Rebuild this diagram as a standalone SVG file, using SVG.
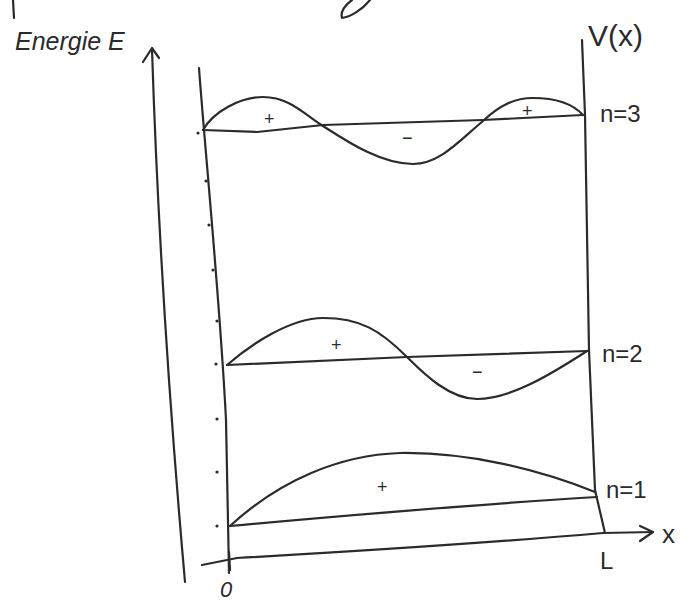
<svg xmlns="http://www.w3.org/2000/svg" width="692" height="604" viewBox="0 0 692 604">
<style>
.s{fill:none;stroke:#2b2b2b;stroke-width:2.2;stroke-linecap:round;stroke-linejoin:round}
.t{font-family:"Liberation Sans","DejaVu Sans",sans-serif;fill:#2b2b2b}
.d{fill:#2b2b2b}
</style>
<rect width="692" height="604" fill="#ffffff"/>
<g id="stray">
<path class="s" d="M13,0 L14,18"/>
<path class="s" d="M370,0 C362,10 350,17 342,18 C340,12 345,5 352,0"/>
</g>
<g id="energy-axis">
<path class="s" d="M152,49 Q160,300 185,582"/>
<polyline class="s" points="143,62 152,48 159,58"/>
<text class="t" x="15" y="50" font-size="25" font-style="italic">Energie E</text>
</g>
<g id="well">
<path class="s" d="M199,68 C205,150 220,300 226,420 L229,573"/>
<path class="s" d="M582,40 L585,115 L589,350 L595,490 L605,533"/>
<text class="t" x="588" y="46" font-size="30">V(x)</text>
</g>
<g id="ticks">
<circle class="d" cx="198" cy="133" r="1.6"/>
<circle class="d" cx="206" cy="181" r="1.6"/>
<circle class="d" cx="209" cy="225" r="1.6"/>
<circle class="d" cx="213" cy="270" r="1.6"/>
<circle class="d" cx="217" cy="321" r="1.6"/>
<circle class="d" cx="216" cy="364" r="1.6"/>
<circle class="d" cx="217" cy="419" r="1.6"/>
<circle class="d" cx="217" cy="472" r="1.6"/>
<circle class="d" cx="217" cy="526" r="1.6"/>
</g>
<g id="x-axis">
<path class="s" d="M202,565 L237,558 Q450,546 603,533 L653,532"/>
<polyline class="s" points="640,526 653,532 640,541"/>
<path class="s" d="M229,552 L230,570"/>
<text class="t" x="220" y="597" font-size="22" font-style="italic">0</text>
<text class="t" x="600" y="569" font-size="24">L</text>
<text class="t" x="662" y="543" font-size="26">x</text>
</g>
<g id="level-n1">
<path class="s" d="M230,526 Q450,506 597,497"/>
<path class="s" d="M230,526 C280,480 340,455 400,453 C470,452 540,470 595,492"/>
<text class="t" x="377" y="493" font-size="18">+</text>
<text class="t" x="606" y="498" font-size="24">n=1</text>
</g>
<g id="level-n2">
<path class="s" d="M227,365 L407,357 L587,351"/>
<path class="s" d="M227,365 C250,345 290,318 323,318 C360,318 380,330 407,357 C425,375 450,399 477,399 C510,399 550,375 587,351"/>
<text class="t" x="331" y="351" font-size="18">+</text>
<text class="t" x="472" y="378" font-size="18">−</text>
<text class="t" x="602" y="362" font-size="24">n=2</text>
</g>
<g id="level-n3">
<path class="s" d="M203,130 L257,132 L323,125 L483,120 L583,115"/>
<path class="s" d="M203,130 C213,112 240,97 263,97 C290,97 305,115 323,126 C345,140 380,164 413,164 C440,164 460,140 483,121 C500,105 515,98 533,98 C555,98 572,103 583,115"/>
<text class="t" x="264" y="125" font-size="18">+</text>
<text class="t" x="402" y="144" font-size="18">−</text>
<text class="t" x="522" y="117" font-size="18">+</text>
<text class="t" x="600" y="122" font-size="24">n=3</text>
</g>
</svg>
